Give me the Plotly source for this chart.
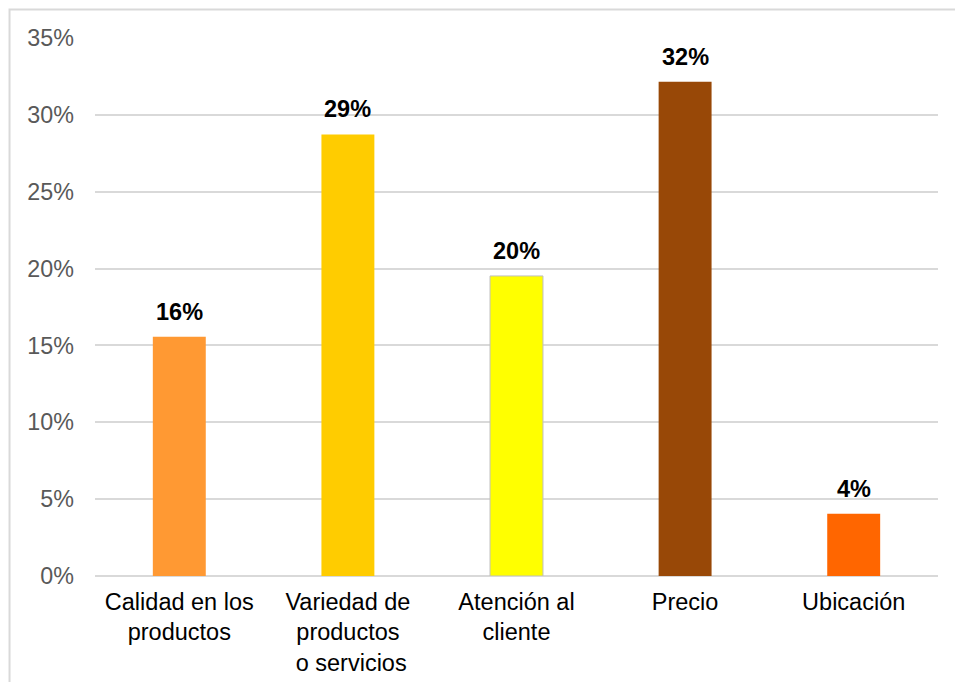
import plotly.graph_objects as go

# Survey data: main reason for choosing the business
categories = [
    "Calidad en los<br>productos",
    "Variedad de<br>productos<br>\u00a0o servicios",
    "Atención al<br>cliente",
    "Precio",
    "Ubicación",
]
shares = [0.1557, 0.2873, 0.1952, 0.3216, 0.0405]
bar_colors = ["#FF9933", "#FFCC00", "#FFFF00", "#984807", "#FF6600"]
outline_widths = [0, 0, 1, 0, 0]
y_ticks = [0, 0.05, 0.10, 0.15, 0.20, 0.25, 0.30, 0.35]

FONT = "Liberation Sans, Arial, sans-serif"

fig = go.Figure(
    go.Bar(
        x=categories,
        y=shares,
        marker=dict(
            color=bar_colors,
            line=dict(color="#BFBFBF", width=outline_widths),
        ),
        hoverinfo="skip",
    )
)

# Value labels above each bar, formatted from the bar value
for cat, val in zip(categories, shares):
    fig.add_annotation(
        x=cat,
        y=val,
        text=f"<b>{val:.0%}</b>",
        showarrow=False,
        yanchor="bottom",
        yshift=10,
        font=dict(family=FONT, size=23.5, color="#000000"),
    )

# Light frame around the chart area
fig.add_shape(
    type="rect",
    xref="paper",
    yref="paper",
    x0=-0.1014,
    x1=1.2,
    y0=-0.4,
    y1=1.0530,
    line=dict(color="#D9D9D9", width=2),
    fillcolor="rgba(0,0,0,0)",
    layer="below",
)

fig.update_layout(
    width=955,
    height=682,
    margin=dict(l=95, r=17, t=38, b=106, autoexpand=False),
    paper_bgcolor="white",
    plot_bgcolor="white",
    bargap=0.686,
    showlegend=False,
    font=dict(family=FONT),
)

fig.update_xaxes(
    automargin=False,
    showgrid=False,
    showline=False,
    ticks="",
    tickfont=dict(family=FONT, size=23.5, color="#000000"),
    ticklabelstandoff=9,
)

fig.update_yaxes(
    automargin=False,
    range=[0, 0.35],
    tickvals=y_ticks,
    tickformat=".0%",
    showgrid=True,
    gridcolor="#D9D9D9",
    gridwidth=1.5,
    zeroline=True,
    zerolinecolor="#D9D9D9",
    zerolinewidth=1.5,
    showline=False,
    ticks="",
    tickfont=dict(family=FONT, size=23.3, color="#595959"),
    ticklabelstandoff=20,
)

fig.write_html("out.html")
